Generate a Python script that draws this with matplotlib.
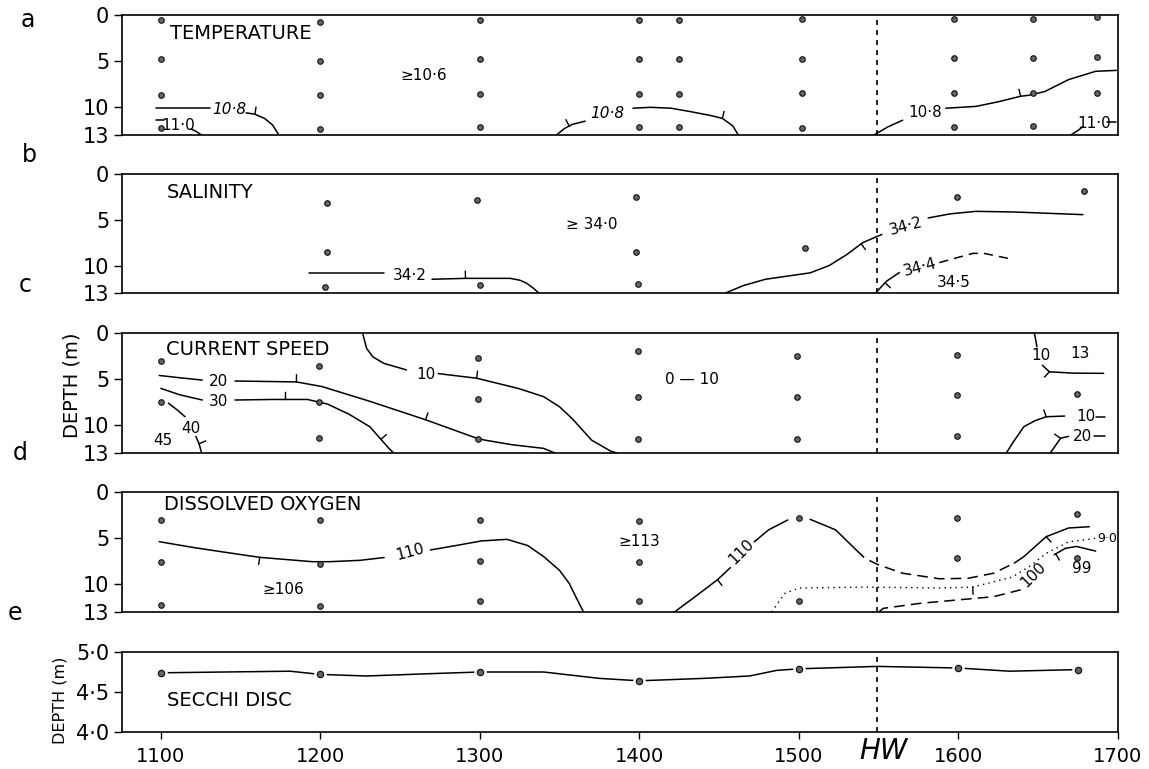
import numpy as np
import matplotlib
matplotlib.use('Agg')
import matplotlib.pyplot as plt

plt.rcParams['font.family'] = ['DejaVu Sans']

# ---------------- axis data ----------------
time_ticks = [1100, 1200, 1300, 1400, 1500, 1600, 1700]
time_labels = ['1100', '1200', '1300', '1400', '1500', '1600', '1700']
depth_ticks = [0, 5, 10, 13]
depth_labels = ['0', '5', '10', '13']
secchi_ticks = [4.0, 4.5, 5.0]
secchi_labels = ['4·0', '4·5', '5·0']
hw_time = 1549
panel_titles = ['TEMPERATURE', 'SALINITY', 'CURRENT SPEED', 'DISSOLVED OXYGEN', 'SECCHI DISC']
panel_letters = ['a', 'b', 'c', 'd', 'e']

# ---------------- sampling points ----------------
temp_pt_time = [1100] * 4 + [1200] * 4 + [1300] * 4 + [1400] * 4 + [1425] * 4 + [1502] * 4 + [1597] * 4 + [1647] * 4 + [1687] * 3
temp_pt_depth = [0.5, 4.8, 8.7, 12.2, 0.8, 4.95, 8.7, 12.35, 0.5, 4.8, 8.55, 12.1, 0.5, 4.8, 8.55, 12.1,
                 0.5, 4.8, 8.55, 12.1, 0.4, 4.8, 8.5, 12.2, 0.45, 4.7, 8.4, 12.1, 0.45, 4.7, 8.5, 12.0,
                 0.2, 4.5, 8.4]
sal_pt_time = [1204, 1204, 1203, 1298, 1300, 1398, 1398, 1399, 1504, 1599, 1679]
sal_pt_depth = [3.2, 8.5, 12.3, 2.8, 12.1, 2.5, 8.5, 12.0, 8.05, 2.5, 1.9]
cur_pt_time = [1100, 1100, 1199, 1199, 1199, 1299, 1299, 1299, 1399, 1399, 1399, 1499, 1499, 1499,
               1599, 1599, 1599, 1674]
cur_pt_depth = [3.0, 7.45, 3.55, 7.45, 11.4, 2.75, 7.15, 11.5, 1.9, 6.9, 11.5, 2.45, 6.9, 11.5,
                2.4, 6.7, 11.2, 6.65]
oxy_pt_time = [1100, 1100, 1100, 1200, 1200, 1200, 1300, 1300, 1300, 1400, 1400, 1400, 1500, 1500,
               1599, 1599, 1674, 1674]
oxy_pt_depth = [3.0, 7.6, 12.2, 3.0, 7.8, 12.3, 3.0, 7.5, 11.8, 3.1, 7.6, 11.8, 2.8, 11.8,
                2.8, 7.1, 2.4, 7.1]
secchi_time = [1100, 1200, 1300, 1400, 1500, 1600, 1675]
secchi_depth = [4.74, 4.72, 4.75, 4.64, 4.79, 4.80, 4.78]
secchi_line_time = [1100, 1140, 1181, 1200, 1229, 1270, 1300, 1340, 1375, 1400, 1440, 1469, 1486, 1500,
                    1549, 1600, 1632, 1675]
secchi_line_depth = [4.74, 4.75, 4.76, 4.72, 4.70, 4.73, 4.75, 4.75, 4.67, 4.64, 4.67, 4.70, 4.77, 4.79,
                     4.82, 4.80, 4.76, 4.78]

# ---------------- isolines (time, depth) ----------------
# temperature
t108a_x = [1097, 1131]; t108a_y = [10.1, 10.1]
t108b_x = [1153.5, 1159, 1165, 1170, 1174]; t108b_y = [10.6, 10.75, 11.2, 11.9, 13.0]
t110a_x = [1097, 1102]; t110a_y = [11.4, 11.4]
t110b_x = [1119, 1122, 1125.5]; t110b_y = [12.35, 12.6, 13.0]
t108c_x = [1348, 1353, 1358, 1366]; t108c_y = [13.0, 12.3, 11.85, 11.5]
t108d_x = [1396, 1407, 1420, 1433, 1445, 1452, 1458.5, 1462]; t108d_y = [10.1, 10.0, 10.1, 10.5, 10.9, 11.2, 12.0, 13.0]
t108e_x = [1547, 1556, 1565]; t108e_y = [13.0, 12.1, 11.4]
t108f_x = [1592, 1611, 1625, 1639, 1644, 1654, 1669, 1686, 1699]; t108f_y = [10.1, 9.9, 9.4, 8.8, 8.7, 8.3, 7.0, 6.1, 6.0]
t110c_x = [1670.5, 1675, 1678]; t110c_y = [13.0, 12.5, 12.1]
t110d_x = [1693, 1699]; t110d_y = [11.6, 11.6]
# salinity
s342a_x = [1193, 1240]; s342a_y = [10.83, 10.83]
s342b_x = [1270, 1291, 1319, 1325, 1329, 1333, 1337]; s342b_y = [11.5, 11.4, 11.4, 11.6, 11.9, 12.4, 13.0]
s342c_x = [1454, 1465, 1479, 1495, 1507, 1519, 1530, 1540, 1552]; s342c_y = [13.0, 12.2, 11.5, 11.1, 10.8, 10.0, 8.8, 7.5, 6.6]
s342d_x = [1581, 1595, 1611, 1635, 1678]; s342d_y = [4.8, 4.35, 4.08, 4.15, 4.44]
s344a_x = [1548, 1555, 1563]; s344a_y = [13.0, 11.7, 10.76]
s344b_x = [1588, 1609, 1616, 1634]; s344b_y = [9.68, 8.67, 8.67, 9.32]
# current speed
c20a_x = [1099, 1112, 1126]; c20a_y = [4.6, 4.85, 5.1]
c20b_x = [1146.5, 1185, 1201, 1231, 1266, 1298, 1303, 1320, 1340, 1347]; c20b_y = [5.2, 5.3, 5.8, 7.4, 9.4, 11.4, 11.6, 12.1, 12.5, 13.0]
c10a_x = [1226.5, 1229, 1233, 1240, 1254]; c10a_y = [0.0, 1.66, 2.6, 3.3, 4.0]
c10b_x = [1274, 1298, 1324, 1340, 1350, 1358, 1370, 1382, 1386]; c10b_y = [4.4, 4.9, 6.0, 6.9, 8.0, 9.3, 11.6, 12.8, 13.0]
c30a_x = [1100, 1112, 1126]; c30a_y = [6.0, 6.7, 7.26]
c30b_x = [1146.5, 1170, 1192, 1204.5, 1218, 1231, 1243, 1246]; c30b_y = [7.26, 7.2, 7.2, 7.7, 8.8, 10.15, 12.5, 13.0]
c40a_x = [1104.8, 1110, 1115.2]; c40a_y = [7.6, 8.3, 9.07]
c40b_x = [1122, 1124, 1125.6]; c40b_y = [11.2, 12.0, 13.0]
c10c_x = [1647.6, 1649.2]; c10c_y = [0.0, 1.5]
c10d_x = [1652.6, 1657, 1672, 1691]; c10d_y = [3.5, 4.2, 4.35, 4.37]
c10e_x = [1630, 1634, 1641, 1648, 1655, 1666.5]; c10e_y = [13.0, 11.9, 10.15, 9.5, 9.07, 9.0]
c10f_x = [1686, 1692]; c10f_y = [9.07, 9.07]
c20c_x = [1657.5, 1660, 1664, 1669]; c20c_y = [13.0, 12.4, 11.4, 11.2]
c20d_x = [1685, 1692]; c20d_y = [11.2, 11.2]
# dissolved oxygen
o110a_x = [1099, 1120, 1138, 1162, 1195, 1206, 1225, 1240]; o110a_y = [5.38, 6.0, 6.47, 7.08, 7.55, 7.55, 7.4, 7.1]
o110b_x = [1269, 1285, 1301, 1317, 1330, 1340, 1350, 1356, 1360, 1365]; o110b_y = [6.28, 5.8, 5.3, 5.13, 5.8, 7.0, 8.5, 9.9, 11.3, 13.0]
o110c_x = [1422, 1436, 1449, 1457]; o110c_y = [13.0, 11.2, 9.5, 8.2]
o110d_x = [1472, 1481, 1493]; o110d_y = [5.4, 4.1, 3.03]
o110e_x = [1507, 1523, 1536]; o110e_y = [2.96, 4.1, 6.3]
o110f_x = [1536, 1541.5, 1550, 1565, 1588, 1606, 1622, 1635]; o110f_y = [6.3, 7.2, 7.9, 8.8, 9.4, 9.35, 8.8, 7.7]
o110g_x = [1635, 1641, 1655, 1669, 1682]; o110g_y = [7.7, 7.0, 4.84, 3.9, 3.76]
o90_x = [1483, 1487, 1491, 1500, 1542, 1588, 1609, 1634, 1645, 1655, 1669, 1687]
o90_y = [13.0, 12.0, 11.0, 10.4, 10.3, 10.4, 10.3, 9.2, 8.0, 6.65, 5.4, 5.0]
o100_x = [1550, 1553, 1576, 1599, 1622, 1639]; o100_y = [13.0, 12.6, 12.06, 11.7, 11.34, 10.6]
o99_x = [1660, 1667, 1674, 1686]; o99_y = [6.8, 6.1, 5.9, 6.4]

# hachure positions along isolines (time, direction)
temp_hach = [('t108b', 1159, 1), ('t108c', 1356, 1), ('t108d', 1452, 1), ('t108f', 1639, 1)]
sal_hach = [('s342b', 1291, 1), ('s342c', 1539, -1), ('s344a', 1554, -1)]
cur_hach = [('c20b', 1185, 1), ('c20b', 1266, 1), ('c10b', 1298, 1), ('c30b', 1178, 1), ('c30b', 1238, 1),
            ('c40b', 1124, 1), ('c10d', 1657, -1), ('c10e', 1655, 1), ('c20c', 1664, 1)]
oxy_hach = [('o110a', 1162, -1), ('o110c', 1449, -1), ('o110g', 1655, -1), ('o90', 1609, -1), ('o99', 1661, -1)]

lines = {k: (v, globals()[k[:-1] + 'y']) for k, v in list(globals().items())
         if k.endswith('_x') and isinstance(v, list)}
curves = {k[:-2]: (v[0], v[1]) for k, v in lines.items()}

# ---------------- figure ----------------
W, H = 1149, 769
fig = plt.figure(figsize=(W / 100, H / 100), dpi=100)
left_px, right_px = 121.7, 1118
panel_px = [(15, 135), (174, 293), (333, 453), (492, 612), (652, 732)]
axes = []
for top, bot in panel_px:
    ax = fig.add_axes([left_px / W, 1 - bot / H, (right_px - left_px) / W, (bot - top) / H])
    axes.append(ax)

XLIM = (1075.5, 1700)
LW = 1.1


def style_depth(ax):
    ax.set_xlim(*XLIM)
    ax.set_ylim(13, 0)
    ax.set_yticks(depth_ticks)
    ax.set_yticklabels(depth_labels)
    ax.set_xticks([])
    ax.tick_params(axis='y', direction='out', length=6, width=1, labelsize=15, pad=3)
    for s in ax.spines.values():
        s.set_linewidth(1.2)
    ax.set_autoscale_on(False)


def dots(ax, xs, ys):
    ax.plot(xs, ys, 'o', ms=4, mfc='#666666', mec='#111111', mew=0.8, zorder=5)


def draw(ax, name, ls='-', lw=LW):
    xs, ys = curves[name]
    ax.plot(xs, ys, color='k', lw=lw, ls=ls, solid_capstyle='round')


def hachure(ax, name, xt, sign=1, length=7):
    xs, ys = curves[name]
    pts = ax.transData.transform(np.column_stack([xs, ys]).astype(float))
    px = ax.transData.transform((xt, 5))[0]
    i = int(np.clip(np.searchsorted(pts[:, 0], px), 1, len(pts) - 1))
    p0, p1 = pts[i - 1], pts[i]
    t = 0.0 if p1[0] == p0[0] else (px - p0[0]) / (p1[0] - p0[0])
    p = p0 + t * (p1 - p0)
    d = (p1 - p0) / np.hypot(*(p1 - p0))
    n = np.array([-d[1], d[0]]) * sign
    q = p + n * length
    dd = ax.transData.inverted().transform(np.array([p, q]))
    ax.plot(dd[:, 0], dd[:, 1], color='k', lw=1.0)


def lab(ax, x, y, s, size=11, rot=0, style='normal'):
    ax.text(x, y, s, fontsize=size, rotation=rot, ha='center', va='center', style=style)


def hw(ax):
    ax.axvline(hw_time, color='k', lw=1.2, ls=(0, (3, 3)))


# ---- a: temperature
ax = axes[0]
style_depth(ax)
dots(ax, temp_pt_time, temp_pt_depth)
for nm in ['t108a', 't108b', 't110a', 't110b', 't108c', 't108d', 't108e', 't108f', 't110c', 't110d']:
    draw(ax, nm)
for nm, xt, sg in temp_hach:
    hachure(ax, nm, xt, sg)
lab(ax, 1143, 10.2, '10·8', style='italic')
lab(ax, 1111, 12.0, '11·0')
lab(ax, 1380, 10.7, '10·8', style='italic')
lab(ax, 1579, 10.6, '10·8')
lab(ax, 1685, 11.8, '11·0')
lab(ax, 1265, 6.5, '≥10·6')
hw(ax)

# ---- b: salinity
ax = axes[1]
style_depth(ax)
dots(ax, sal_pt_time, sal_pt_depth)
for nm in ['s342a', 's342b', 's342c', 's342d', 's344a']:
    draw(ax, nm)
draw(ax, 's344b', ls=(0, (6, 4)))
for nm, xt, sg in sal_hach:
    hachure(ax, nm, xt, sg)
lab(ax, 1256, 11.1, '34·2')
lab(ax, 1567, 5.7, '34·2', rot=15)
lab(ax, 1576, 10.2, '34·4', rot=15)
lab(ax, 1597, 11.8, '34·5')
lab(ax, 1370, 5.5, '≥ 34·0')
hw(ax)

# ---- c: current speed
ax = axes[2]
style_depth(ax)
dots(ax, cur_pt_time, cur_pt_depth)
for nm in ['c20a', 'c20b', 'c10a', 'c10b', 'c30a', 'c30b', 'c40a', 'c40b', 'c10c', 'c10d', 'c10e',
           'c10f', 'c20c', 'c20d']:
    draw(ax, nm)
for nm, xt, sg in cur_hach:
    hachure(ax, nm, xt, sg)
lab(ax, 1136, 5.3, '20')
lab(ax, 1266, 4.5, '10')
lab(ax, 1136, 7.4, '30')
lab(ax, 1119, 10.3, '40')
lab(ax, 1101, 11.6, '45')
lab(ax, 1433, 5.0, '0 — 10')
lab(ax, 1652, 2.4, '10')
lab(ax, 1676, 2.2, '13')
lab(ax, 1680, 9.07, '10')
lab(ax, 1678, 11.2, '20')
hw(ax)

# ---- d: dissolved oxygen
ax = axes[3]
style_depth(ax)
dots(ax, oxy_pt_time, oxy_pt_depth)
for nm in ['o110a', 'o110b', 'o110c', 'o110d', 'o110e', 'o110g', 'o99']:
    draw(ax, nm)
draw(ax, 'o110f', ls=(0, (7, 4)))
draw(ax, 'o100', ls=(0, (7, 4)))
draw(ax, 'o90', ls=(0, (1, 3)), lw=1.0)
for nm, xt, sg in oxy_hach:
    hachure(ax, nm, xt, sg)
lab(ax, 1256, 6.5, '110', rot=15)
lab(ax, 1464, 6.5, '110', rot=45)
lab(ax, 1647, 8.9, '100', rot=45)
lab(ax, 1677, 8.3, '99')
lab(ax, 1693, 5.0, '9·0', size=9)
lab(ax, 1177, 10.6, '≥106')
lab(ax, 1400, 5.4, '≥113')
hw(ax)

# ---- e: secchi disc
ax = axes[4]
ax.set_xlim(*XLIM)
ax.set_ylim(4.0, 5.0)
ax.set_yticks(secchi_ticks)
ax.set_yticklabels(secchi_labels)
ax.set_xticks(time_ticks)
ax.set_xticklabels(time_labels)
ax.tick_params(axis='y', direction='out', length=6, width=1, labelsize=15, pad=3)
ax.tick_params(axis='x', direction='out', length=5, width=1, labelsize=14, pad=6)
for s in ax.spines.values():
    s.set_linewidth(1.2)
ax.plot(secchi_line_time, secchi_line_depth, color='k', lw=LW)
ax.plot(secchi_time, secchi_depth, 'o', ms=9, mfc='white', mec='none', zorder=4)
ax.plot(secchi_time, secchi_depth, 'o', ms=4.5, mfc='#666666', mec='#111111', mew=0.9, zorder=5)
hw(ax)

# titles
title_pos = [(1106, 2.0), (1104, 2.0), (1103, 1.8), (1102, 1.4), (1104, 4.40)]
for ax, t, (tx, ty) in zip(axes, panel_titles, title_pos):
    ax.text(tx, ty, t, fontsize=14, ha='left', va='center')

# panel letters
letter_px = [(28, 20), (29, 155), (25, 285), (20, 453), (15, 613)]
for l, (lx, ly) in zip(panel_letters, letter_px):
    fig.text(lx / W, 1 - ly / H, l, fontsize=17, ha='center', va='center')

fig.text(72 / W, 1 - 385 / H, 'DEPTH (m)', rotation=90, fontsize=14, ha='center', va='center')
fig.text(60 / W, 1 - 700 / H, 'DEPTH (m)', rotation=90, fontsize=11.5, ha='center', va='center')
fig.text(883 / W, 1 - 751 / H, 'HW', fontsize=20, style='italic', ha='center', va='center')

fig.savefig('out.png', dpi=100)
